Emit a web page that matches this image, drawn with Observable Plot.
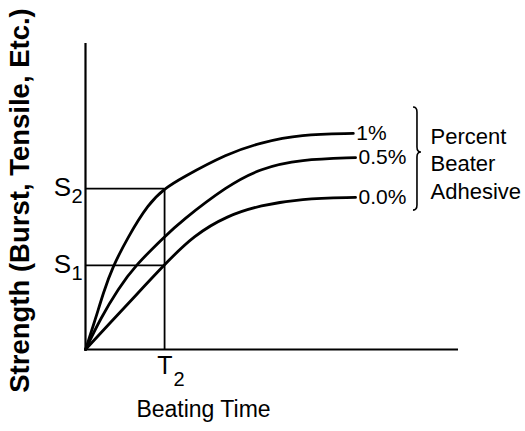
<!DOCTYPE html>
<html>
<head>
<meta charset="utf-8">
<script src="https://cdn.jsdelivr.net/npm/d3@7"></script>
<script src="https://cdn.jsdelivr.net/npm/@observablehq/plot@0.6"></script>
<style>
  html, body { margin: 0; padding: 0; background: #fff; }
  #chart svg { display: block; }
</style>
</head>
<body>
<div id="chart"></div>
<script>
// ---- data (arbitrary units) ----
const seriesNames = ["1%", "0.5%", "0.0%"];
const time1   = [0, 0.27, 0.48, 0.72, 1.13, 1.69, 2.12, 2.55, 3.81, 4.69, 5.76, 7.18];
const str1    = [0, 1.01, 1.86, 2.68, 3.66, 4.77, 5.26, 5.59, 6.41, 6.76, 7.03, 7.06];
const time05  = [0, 0.40, 0.88, 1.34, 2.12, 2.55, 3.81, 4.69, 5.76, 7.24];
const str05   = [0, 1.01, 1.99, 2.75, 3.69, 4.18, 5.36, 5.92, 6.21, 6.27];
const time00  = [0, 0.67, 1.34, 2.12, 2.90, 3.81, 4.69, 5.76, 7.24];
const str00   = [0, 0.88, 1.76, 2.78, 3.73, 4.38, 4.71, 4.93, 4.97];

const T2 = 2.12;                     // beating time T2
const strengthLevels = [5.26, 2.75]; // S2, S1
const strengthSubs = ["2", "1"];

const xLabel = "Beating Time";
const yLabel = "Strength (Burst, Tensile, Etc.)";
const legendTitle = "Percent\nBeater\nAdhesive";

// annotation anchors (data units)
const braceX = 8.90, braceTop = 7.91, braceBottom = 4.54, braceTip = 6.44;
const legendX = 9.25, legendY = 6.11;

// ---- build table ----
const raw = [[time1, str1], [time05, str05], [time00, str00]];
const rows = [];
raw.forEach(([ts, ss], i) => ts.forEach((t, j) => rows.push({series: seriesNames[i], t, s: ss[j]})));
const ends = raw.map(([ts, ss], i) => ({series: seriesNames[i], t: ts[ts.length - 1], s: ss[ss.length - 1]}));

const font = "'Liberation Sans', Arial, Helvetica, sans-serif";

const plot = Plot.plot({
  width: 525,
  height: 431,
  marginLeft: 85,
  marginRight: 67,
  marginTop: 43,
  marginBottom: 82,
  style: {fontFamily: font, background: "#fff", color: "#000", overflow: "visible"},
  x: {domain: [0, 10], axis: null},
  y: {domain: [0, 10], axis: null},
  marks: [
    // axes
    Plot.ruleX([0], {stroke: "#000", strokeWidth: 2.2}),
    Plot.ruleY([0], {stroke: "#000", strokeWidth: 2.2}),
    // reference lines
    Plot.ruleY(strengthLevels, {x1: 0, x2: T2, stroke: "#000", strokeWidth: 1.8}),
    Plot.ruleX([T2], {y1: 0, y2: strengthLevels[0], stroke: "#000", strokeWidth: 1.8}),
    // curves
    Plot.line(rows, {x: "t", y: "s", z: "series", curve: "basis", stroke: "#000", strokeWidth: 2.8}),
    // end labels
    Plot.text(ends, {x: "t", y: "s", text: "series", textAnchor: "start", dx: 3, fontSize: 21, fill: "#000"}),
    // legend title
    Plot.text([legendTitle], {x: legendX, y: legendY, text: d => d, textAnchor: "start", lineHeight: 1.25, fontSize: 22, fill: "#000"}),
    // S labels
    Plot.text(strengthLevels, {x: 0, y: d => d, text: () => "S", textAnchor: "end", dx: -14.5, dy: -1, fontSize: 26, fill: "#000"}),
    Plot.text(strengthLevels, {x: 0, y: d => d, text: (d, i) => strengthSubs[i], textAnchor: "start", dx: -14, dy: 8.5, fontSize: 20, fill: "#000"}),
    // T2 label
    Plot.text([T2], {x: d => d, frameAnchor: "bottom", text: () => "T", textAnchor: "end", dx: 8, dy: 24.5, fontSize: 25, fill: "#000"}),
    Plot.text([T2], {x: d => d, frameAnchor: "bottom", text: () => "2", textAnchor: "start", dx: 9, dy: 36.3, fontSize: 20, fill: "#000"}),
    // axis titles
    Plot.text([xLabel], {frameAnchor: "bottom-left", text: d => d, textAnchor: "middle", dx: 118, dy: 67, fontSize: 23, fill: "#000"}),
    Plot.text([yLabel], {frameAnchor: "left", text: d => d, rotate: -90, textAnchor: "middle", dx: -65.5, dy: 4, fontSize: 27.5, fontWeight: "bold", fill: "#000"})
  ]
});

// brace drawn with the plot's own scales
(function addBrace() {
  const sx = plot.scale("x"), sy = plot.scale("y");
  const fx = d3.scaleLinear().domain(sx.domain).range(sx.range);
  const fy = d3.scaleLinear().domain(sy.domain).range(sy.range);
  const x = fx(braceX), yT = fy(braceTop), yB = fy(braceBottom), yM = fy(braceTip);
  const p = d3.path();
  p.moveTo(x - 4, yT);
  p.quadraticCurveTo(x, yT, x, yT + 5);
  p.lineTo(x, yM - 5);
  p.quadraticCurveTo(x, yM, x + 4, yM);
  p.quadraticCurveTo(x, yM, x, yM + 5);
  p.lineTo(x, yB - 5);
  p.quadraticCurveTo(x, yB, x - 4, yB);
  d3.select(plot).append("path")
    .attr("d", p.toString())
    .attr("fill", "none")
    .attr("stroke", "#000")
    .attr("stroke-width", 1.6);
})();

document.getElementById("chart").appendChild(plot);
</script>
</body>
</html>
